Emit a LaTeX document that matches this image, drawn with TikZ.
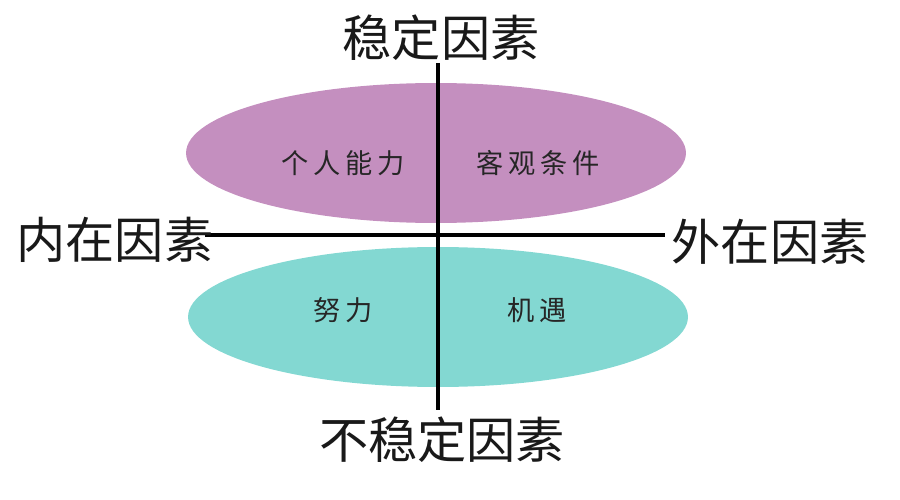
\documentclass[tikz,border=0pt]{standalone}
\usepackage{fontspec}
\setmainfont{Noto Sans CJK SC}
\newfontfamily\cjkwide[LetterSpace=18]{Noto Sans CJK SC}
\usetikzlibrary{positioning,shapes.geometric}
\definecolor{stablec}{HTML}{C48FBF}
\definecolor{unstablec}{HTML}{83D8D2}
\tikzset{
  blob/.style={ellipse,minimum width=10cm,minimum height=2.8cm,inner sep=0pt,draw=none},
  axisln/.style={line width=2.2pt,black},
  ttl/.style={font=\fontsize{28}{30}\selectfont,text=black!90,inner sep=0pt},
  cell/.style={font=\cjkwide\fontsize{15.5}{17}\selectfont,text=black!85,inner sep=0pt},
}

\begin{document}
\begin{tikzpicture}[x=0.02cm,y=-0.02cm]
  \useasboundingbox (0,0) rectangle (900,500);
  % ---- the two factor ellipses ----
  \node[blob,fill=stablec]   (stable)   at (436,153) {};
  \node[blob,fill=unstablec] (unstable) at (438,317) {};
  \node[cell] (ability) at (343,163) {个人能力};
  \node[cell] (cond)    at (538,163) {客观条件};
  \node[cell] (effort)  at (343,310) {努力};
  \node[cell] (chance)  at (537,310) {机遇};
  % ---- axes ----
  \coordinate (top) at (438,63);
  \coordinate (bot) at (438,410);
  \coordinate (lft) at (205,235);
  \coordinate (rgt) at (665,235);
  \draw[axisln] (top) -- (bot);
  \draw[axisln] (lft) -- (rgt);
  \node[ttl] (stab)   at (441,38)  {稳定因素};
  \node[ttl] (unstab) at (442,440) {不稳定因素};
  \node[ttl] (inner)  at (115,240) {内在因素};
  \node[ttl] (outer)  at (770,242) {外在因素};
\end{tikzpicture}
\end{document}
